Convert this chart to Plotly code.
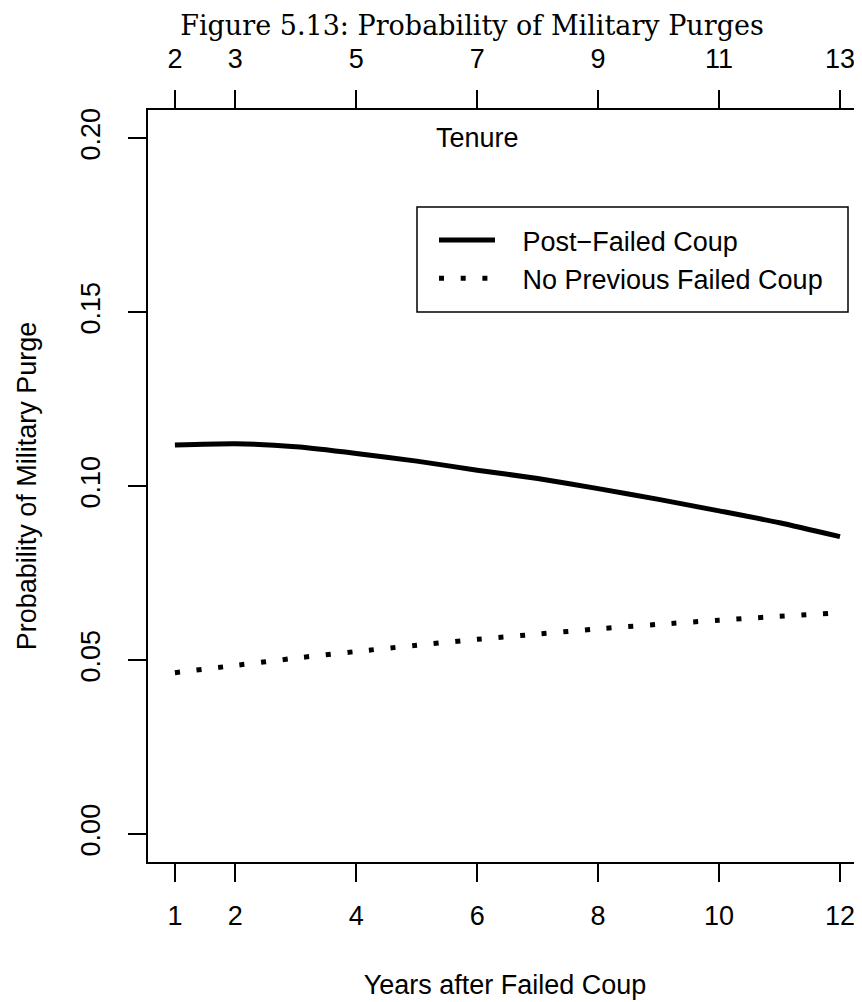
import plotly.graph_objects as go

years = [1, 2, 3, 4, 5, 6, 7, 8, 9, 10, 11, 12]
post_failed_coup = [0.1118, 0.1122, 0.1113, 0.1094, 0.1072, 0.1046,
                    0.1022, 0.0993, 0.0962, 0.0929, 0.0895, 0.0855]
no_prev_failed_coup = [0.0464, 0.0485, 0.0506, 0.0525, 0.0543, 0.0560,
                       0.0575, 0.0590, 0.0603, 0.0615, 0.0626, 0.0636]
bottom_ticks = [1, 2, 4, 6, 8, 10, 12]
top_ticks = [2, 3, 5, 7, 9, 11, 13]
y_ticks = [0.00, 0.05, 0.10, 0.15, 0.20]

SANS = "Liberation Sans, Arial, Helvetica, sans-serif"
SERIF = "DejaVu Serif, serif"
FS = 27
NB = "\u00a0"

# page body has an 8px margin, so the figure is sized/offset accordingly
W, H = 854, 994
ML, MT, MB, MR = 140, 102, 140, 0
PW, PH = W - ML - MR, H - MT - MB

x_range = [0.555, 12.364]
y_range = [-0.008, 0.2081]

fig = go.Figure()
fig.add_trace(go.Scatter(
    x=years, y=post_failed_coup, mode="lines", name=NB * 3 + "Post\u2212Failed Coup",
    line=dict(color="black", width=5, shape="spline", smoothing=0.6),
))
fig.add_trace(go.Scatter(
    x=years, y=no_prev_failed_coup, mode="lines", name=NB * 3 + "No Previous Failed Coup",
    line=dict(color="black", width=5, dash="5px,16.7px", shape="spline", smoothing=0.6),
))
# invisible trace for top axis
fig.add_trace(go.Scatter(
    x=top_ticks, y=[None] * len(top_ticks), xaxis="x2",
    mode="lines", showlegend=False, hoverinfo="skip",
))

axis_common = dict(
    showgrid=False, zeroline=False, showline=True, linecolor="black", linewidth=1.5,
    ticks="outside", ticklen=18, tickwidth=1.5, tickcolor="black",
    tickfont=dict(family=SANS, size=FS, color="black"),
)

def px_x(sx):
    return (sx - 8 - ML) / PW

def px_y(sy):
    return (MT + PH - (sy - 8)) / PH

fig.update_layout(
    width=W, height=H,
    margin=dict(l=ML, r=MR, t=MT, b=MB),
    paper_bgcolor="white", plot_bgcolor="white",
    title=dict(
        text="Figure 5.13: Probability of Military Purges",
        font=dict(family=SERIF, size=27, color="black"),
        x=(472 - 8) / W, xanchor="center", xref="container",
        y=1 - (26 - 8) / H, yanchor="middle", yref="container",
    ),
    xaxis=dict(
        range=x_range, tickmode="array", tickvals=bottom_ticks,
        ticktext=[str(v) for v in bottom_ticks], ticklabelstandoff=11,
        title=dict(text="Years after Failed Coup", font=dict(family=SANS, size=FS, color="black"),
                   standoff=45),
        **axis_common,
    ),
    xaxis2=dict(
        range=[x_range[0] + 1, x_range[1] + 1], overlaying="x", side="top",
        tickmode="array", tickvals=top_ticks, ticktext=[str(v) for v in top_ticks],
        ticklabelstandoff=11,
        **axis_common,
    ),
    yaxis=dict(
        range=y_range, tickmode="array", tickvals=y_ticks,
        ticktext=["%.2f" % v for v in y_ticks], tickangle=-90, ticklabelstandoff=17,
        title=dict(text="Probability of Military Purge", font=dict(family=SANS, size=FS, color="black"),
                   standoff=32),
        **axis_common,
    ),
    legend=dict(
        x=px_x(434), y=px_y(216), xanchor="left", yanchor="top",
        borderwidth=0, bgcolor="rgba(0,0,0,0)",
        font=dict(family=SANS, size=FS, color="black"),
        itemwidth=56, tracegroupgap=0,
    ),
    showlegend=True,
    shapes=[
        dict(type="rect", xref="paper", yref="paper",
             x0=px_x(417), x1=px_x(848), y0=px_y(312), y1=px_y(207),
             line=dict(color="black", width=1.5), fillcolor="rgba(0,0,0,0)"),
    ],
    annotations=[
        dict(x=6, y=0.2, xref="x", yref="y", text="Tenure", showarrow=False,
             font=dict(family=SANS, size=FS, color="black"), xanchor="center", yanchor="middle"),
    ],
)

fig.write_html("out.html")
